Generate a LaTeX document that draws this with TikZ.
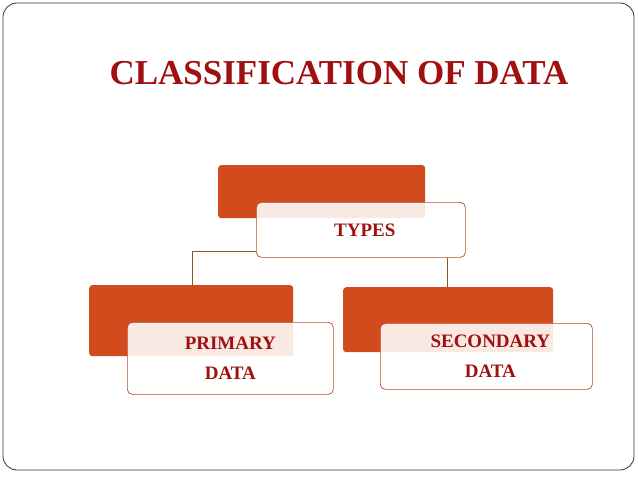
\documentclass[tikz,border=0pt]{standalone}
\usepackage{fontspec}
\setmainfont{Liberation Serif}
\usetikzlibrary{positioning}
\definecolor{boxorange}{RGB}{210,75,28}
\definecolor{textred}{RGB}{160,16,16}
\definecolor{edgebrown}{RGB}{185,75,45}
\tikzset{
  backbox/.style={fill=boxorange,rounded corners=3pt,anchor=north west,inner sep=0pt},
  frontbox/.style={draw=edgebrown,line width=0.7pt,fill=white,fill opacity=0.88,text opacity=1,rounded corners=5pt,
    anchor=north west,inner sep=0pt,align=center,text=textred,font=\bfseries\fontsize{19}{30}\selectfont},
  link/.style={draw=brown!70!black,line width=0.6pt}
}
\begin{document}
\begin{tikzpicture}[x=1pt,y=-1pt]
\useasboundingbox (0,0) rectangle (638,479);
\draw[rounded corners=14pt,line width=0.8pt,draw=black!80] (3,3) rectangle (634,470);
\node[text=textred,font=\bfseries\fontsize{35}{40}\selectfont] (title) at (339,73) {CLASSIFICATION OF DATA};
% back boxes
\node[backbox,minimum width=207pt,minimum height=53pt] (typesback) at (218,165) {};
\node[backbox,minimum width=204pt,minimum height=71pt] (primback) at (89,285) {};
\node[backbox,minimum width=210pt,minimum height=65pt] (secback) at (343,287) {};
% front boxes
\node[frontbox,minimum width=209pt,minimum height=55pt] (types) at (256,202) {\hspace*{8pt}TYPES};
\node[frontbox,minimum width=206pt,minimum height=72pt] (prim) at (127,322) {PRIMARY\\DATA};
\node[frontbox,minimum width=212pt,minimum height=66pt] (sec) at (380,323) {\hspace*{8pt}SECONDARY\\\hspace*{8pt}DATA};
% connectors
\coordinate (bend) at (192,251);
\draw[link] (types.west |- bend) -- (bend) -- (bend |- primback.north);
\draw[link] (types.south -| 447,0) -- (447,0 |- secback.north);
\end{tikzpicture}
\end{document}
